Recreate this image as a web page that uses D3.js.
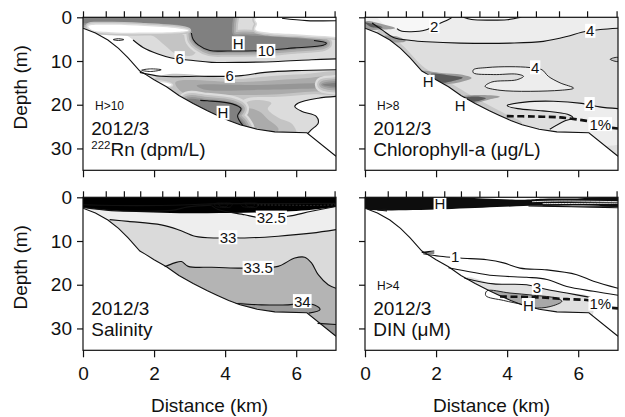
<!DOCTYPE html>
<html>
<head>
<meta charset="utf-8">
<script src="https://cdn.jsdelivr.net/npm/d3@7"></script>
<style>
  body { margin: 0; background: #fff; }
  svg text { font-family: "Liberation Sans", Arial, sans-serif; fill: #111; }
</style>
</head>
<body>
<div id="chart"></div>
<script>
// station positions along the transect (km), marked on the top axis
var stations = [0, 0.64, 1.15, 1.61, 2.23, 2.70, 3.22, 3.75, 4.28, 4.81, 5.46, 6.25, 7.08];
var distTicks = [0, 2, 4, 6];
var depthTicks = [0, 10, 20, 30];

// bottom profile [km, depth m]
var seafloor = [[0,2.5],[0.35,3.6],[0.7,5.2],[1.0,7.1],[1.27,9.3],[1.6,12.3],[1.75,13.0],[2.0,14.3],[2.35,15.9],
  [2.7,17.9],[3.1,19.7],[3.5,21.4],[3.77,22.4],[4.1,23.6],[4.42,24.6],[4.9,25.6],[5.4,26.2],[6.3,26.4],[7.12,31.8]];

// ---- 222Rn (dpm/L): filled ranges, level = lower bound of the class ----
var rnFills = [
  { level: 6, pts: [[-0.3,-1],[7.5,-1],[7.5,9.5],[7.12,9.5],[6.43,9.7],[5.49,10.1],[4.55,10.3],[3.62,10.3],[3.1,9.9],[2.49,9.3],[2.11,8.4],[1.69,6.9],[1.41,5.2],[1.25,4.3],[1.0,4.0],[0.5,3.9],[0.1,3.6],[-0.3,3.4]] },
  { level: 7, pts: [[1.9,2.2],[2.9,2.4],[3.2,3.5],[3.25,6.5],[3.1,8.6],[2.6,8.3],[2.3,6.4],[2.0,4.4],[1.8,3.6]] },
  { level: 10, pts: [[-0.3,-1],[4.23,-1],[4.22,0.5],[4.2,1.7],[4.23,4.0],[4.55,4.1],[5.49,4.5],[6.43,5.1],[6.85,5.9],[6.76,6.4],[5.96,7.0],[5.12,7.6],[4.08,7.7],[3.57,7.6],[3.24,6.3],[3.1,5.1],[3.05,3.2],[2.86,2.1],[2.2,1.5],[1.27,1.2],[0.42,1.1],[-0.3,1.2]] },
  { level: 0, pts: [[0.15,2.0],[0.8,1.7],[1.74,2.0],[2.68,2.55],[2.96,3.0],[2.68,3.3],[1.74,3.5],[0.8,3.4],[0.25,2.9]] },
  { level: 0, pts: [[4.85,0.4],[7.5,0.4],[7.5,4.2],[6.8,4.3],[6.0,3.9],[5.2,3.5],[4.85,2.8],[4.9,1.5]] },
  { level: 6, pts: [[1.3,13.5],[2.2,13.5],[3.2,13.5],[4.37,13.4],[5.12,12.6],[5.96,12.2],[7.12,12.0],[7.5,12.0],[7.5,18.0],[7.12,18.1],[6.62,18.5],[6.06,19.6],[5.96,20.4],[6.15,21.5],[6.57,22.7],[6.62,24.2],[6.43,25.7],[6.25,28],[3.0,28],[1.3,16]] },
  { level: 7, pts: [[2.0,14.2],[4.4,14.1],[5.3,13.4],[6.2,13.0],[7.5,12.9],[7.5,17.4],[6.5,17.6],[5.5,18.2],[4.6,18.6],[4.4,20],[4.6,28],[2.0,28]] },
  { level: 7, pts: [[4.6,19.5],[5.3,19.6],[5.2,21],[5.5,23],[5.9,24.5],[6.0,27],[4.6,27]] },
  { level: 8, pts: [[2.6,14.9],[4.5,14.8],[6.0,14.1],[7.5,13.9],[7.5,16.8],[6.5,17.0],[5.5,17.6],[4.5,17.8],[3.5,17.6],[2.8,17.2]] },
  { level: 8, pts: [[4.6,21],[4.95,21.5],[5.2,23.3],[5.5,25.5],[5.4,27],[4.6,27]] },
  { level: 9, pts: [[3.2,15.6],[5.0,15.5],[6.5,15.1],[7.5,15.0],[7.5,16.1],[6.5,16.3],[5.0,16.6],[3.4,16.5]] },
  { level: 10, pts: [[6.75,15.4],[7.5,15.1],[7.5,15.8],[6.9,15.7]] },
  { level: 0, pts: [[1.95,14.9],[2.35,15.0],[2.5,15.5],[2.2,15.9],[1.95,15.7]] },
  { level: 9, pts: [[2.6,18.3],[3.0,18.2],[3.2,18.6],[2.8,18.9]] },
  { level: 10, pts: [[2.9,19.0],[3.5,19.1],[4.2,19.8],[4.45,20.9],[4.35,22.6],[4.5,24.0],[4.6,26],[2.9,26]] }
];
var rnLines = [
  [[1.41,5.2],[1.69,6.9],[2.11,8.4],[2.49,9.3],[3.1,9.9],[3.62,10.3],[4.55,10.3],[5.49,10.1],[6.43,9.7],[7.12,9.5]],
  [[3.05,3.6],[3.1,5.1],[3.24,6.3],[3.57,7.6],[4.08,7.7],[5.12,7.6],[5.96,7.0],[6.76,6.4],[6.85,5.9],[6.5,5.3]],
  [[1.6,12.6],[2.2,13.5],[3.2,13.5],[4.37,13.4],[5.12,12.6],[5.96,12.2],[7.12,12.0]],
  [[7.12,18.1],[6.62,18.5],[6.06,19.6],[5.96,20.4],[6.15,21.5],[6.57,22.7],[6.62,24.2],[6.43,25.7],[6.32,26.6]],
  [[3.3,19.0],[3.5,19.1],[4.2,19.8],[4.45,20.9],[4.35,22.6],[4.5,24.8]],
  [[5.6,0.2],[6.3,0.75],[7.12,0.8]]
];
var rnLoops = [
  [[0.85,5.1],[1.0,4.9],[1.15,5.1],[1.0,5.3]],
  [[1.65,12.1],[1.9,11.8],[2.2,12.0],[1.9,12.4]]
];
var rnLabels = [
  { text: 'H', at: [4.37, 6.0] }, { text: '10', at: [5.15, 7.75] }, { text: '6', at: [2.72, 9.4] },
  { text: '6', at: [4.13, 13.45] }, { text: 'H', at: [3.94, 21.9] }
];

// ---- Chlorophyll-a (ug/L) ----
var chlMid4 = [[3.05,12.0],[3.43,11.5],[4.08,11.3],[4.65,11.5],[4.98,12.0],[5.16,13.5],[5.49,15.0],[5.87,16.2],[5.49,16.7],[3.8,16.7],[3.38,15.8],[3.57,14.8],[4.27,14.3],[4.46,13.5],[4.27,13.0],[3.62,13.1],[3.05,12.7]];
var chlLow4 = [[7.12,20.9],[6.6,20.5],[6.1,19.7],[5.3,19.2],[4.5,19.4],[4.0,20.2],[4.3,20.9],[5.0,21.4],[5.7,22.2],[5.85,23.0],[5.6,23.8],[5.2,25.6]];
var chlUp4 = [[0.2,1.3],[0.5,3.0],[0.8,4.6],[1.3,5.3],[1.74,5.6],[2.68,5.9],[4.08,5.9],[5.02,5.5],[5.68,4.4],[6.1,3.4],[6.62,2.8],[7.12,2.5]];
var chl2 = [[2.45,0],[2.35,0.5],[2.1,1.4],[1.7,2.9],[1.3,3.3],[1.0,3.1],[0.9,2.6]];
var chlFills = [
  { level: 5, pts: [[-0.5,-1],[7.5,-1],[7.5,34],[-0.5,34]] },
  { level: 3, pts: [[-0.5,-1],[7.5,-1],[7.5,2.5]].concat(chlUp4.slice().reverse(), [[-0.5,1.0]]) },
  { level: 1, pts: [[0.3,-1],[2.5,-1]].concat(chl2, [[0.7,2.2],[0.45,1.0]]) },
  { level: 1, pts: [[2.77,-1],[4.4,-1],[4.4,0],[4.0,0.55],[3.5,0.65],[3.0,0.5],[2.77,0]] },
  { level: 3, pts: chlMid4 },
  { level: 3, pts: [[7.5,21.0]].concat(chlLow4, [[5.3,28],[7.5,28]]) },
  { level: 6, pts: [[0.4,2.8],[0.7,4.3],[1.0,6.0],[1.27,8.2],[1.6,11.0],[2.0,13.2],[2.35,14.8],[3.1,18.4],[3.77,21.3],[4.1,22.7],[4.4,24.0],[4.5,27],[0.4,27]] },
  { level: 6, pts: [[7.12,9.2],[6.9,9.6],[7.12,10.1],[7.5,9.6]] },
  { level: 7, pts: [[0,1.0],[0.5,1.6],[0.85,2.5],[0.5,2.8],[0,2.6]] },
  { level: 8, pts: [[0,1.2],[0.35,1.8],[0.5,2.3],[0.2,2.3]] },
  { level: 7, pts: [[0.55,4.3],[0.95,4.5],[1.15,5.4],[0.8,5.7]] },
  { level: 7, pts: [[1.55,12.4],[2.21,12.8],[2.7,13.1],[3.0,13.9],[2.7,14.8],[2.1,15.4],[1.8,15]] },
  { level: 8, pts: [[1.85,13.0],[2.4,13.3],[2.75,13.8],[2.5,14.5],[2.1,14.9]] },
  { level: 7, pts: [[2.75,18.2],[3.3,17.8],[3.8,18.2],[3.5,18.8],[3.0,19.6]] },
  { level: 8, pts: [[2.8,18.4],[3.15,18.1],[3.4,18.5],[3.0,19.3]] }
];
var chlLines = [chl2, [[2.77,0],[3.0,0.5],[3.5,0.65],[4.0,0.55],[4.4,0]], chlUp4, chlLow4];
var chlLoops = [chlMid4, [[7.12,9.2],[6.9,9.6],[7.12,10.1]]];
var chlDashed = [[[3.99,22.6],[4.74,22.7],[5.49,22.9],[6.24,23.7],[6.45,24.0]], [[6.95,25.3],[7.12,25.45]]];
var chlLabels = [
  { text: '2', at: [1.95, 2.1] }, { text: '4', at: [6.34, 3.15] }, { text: '4', at: [4.79, 11.5] },
  { text: '4', at: [6.32, 19.9] }, { text: '1%', at: [6.62, 24.5] }, { text: 'H', at: [1.78, 14.8] }, { text: 'H', at: [2.68, 20.2] }
];

// ---- Salinity ----
var sal325 = [[3.62,1.9],[3.8,2.8],[4.55,4.0],[4.93,4.6],[5.3,4.7],[5.77,4.35],[6.43,3.2],[7.12,2.1]];
var sal33 = [[0.75,5.1],[1.27,5.5],[2.2,6.3],[2.68,7.4],[3.15,8.9],[3.71,9.3],[4.08,9.2],[4.55,9.3],[5.49,8.9],[6.43,8.2],[7.12,7.4]];
var sal335 = [[2.3,15.9],[2.58,15.0],[2.77,14.7],[2.96,15.8],[3.62,16.0],[4.36,16.2],[4.93,16.2],[5.49,15.8],[5.96,13.9],[6.24,13.7],[6.43,15.0],[6.62,17.7],[6.9,20.0],[7.12,20.8]];
var sal34 = [[4.3,24.3],[5.02,24.6],[5.77,24.6],[6.15,24.3],[6.53,24.7],[6.67,25.7],[6.35,26.5]];
var salLens = [[0,2.3],[0.8,3.05],[1.74,3.2],[2.49,3.0],[2.96,2.2],[3.62,1.8]];
var salFills = [
  { level: 32.5, pts: [[-0.5,-1],[7.5,-1],[7.5,34],[-0.5,34]] },
  { level: 32, pts: [[-0.5,-1],[7.5,-1],[7.5,2.0]].concat(sal325.slice().reverse(), salLens.slice().reverse(), [[-0.5,2.2]]) },
  { level: 33, pts: sal33.concat([[7.5,7.3],[7.5,34],[0.4,34],[0.4,5.0]]) },
  { level: 33.5, pts: [[2.2,16.6]].concat(sal335, [[7.5,21],[7.5,34],[2.2,34]]) },
  { level: 34, pts: sal34.concat([[5.0,27],[4.2,26]]) },
  { level: 34, pts: [[6.0,28.8],[7.12,29.1],[7.5,29.2],[7.5,34],[6.0,34]] },
  { level: 31, pts: [[-0.5,-1],[7.5,-1],[7.5,1.15],[-0.5,1.15]] }
];
var salLines = [
  [[0,1.7],[1.5,1.9],[3.0,1.7],[3.62,1.5],[5,1.45],[7.12,1.4]],
  salLens, sal325, sal33, sal335, sal34, [[6.6,28.85],[7.12,29.1]]
];
var salLoops = [
  [[3.7,1.5],[3.95,1.3],[4.2,1.5],[4.15,2.2],[3.9,2.3],[3.72,2.0]],
  [[3.82,1.6],[3.95,1.45],[4.08,1.6],[4.05,2.05],[3.9,2.1],[3.84,1.9]],
  [[4.45,1.5],[4.7,1.3],[4.95,1.5],[4.9,2.2],[4.65,2.3],[4.47,2.0]],
  [[4.57,1.6],[4.7,1.45],[4.83,1.6],[4.8,2.05],[4.65,2.1],[4.59,1.9]]
];
var salDotted = [[[4.9,1.75],[5.8,1.8],[6.6,1.85],[7.12,1.7]]];
var salLabels = [
  { text: '32.5', at: [5.3, 4.7] }, { text: '33', at: [4.08, 9.2] }, { text: '33.5', at: [4.93, 16.2] }, { text: '34', at: [6.17, 23.8] }
];

// ---- DIN (uM) ----
var dinH = [[3.43,21.4],[4.08,21.9],[4.74,22.4],[5.4,23.1],[5.54,23.8],[5.21,25.0],[4.74,25.3],[4.46,24.6],[3.9,23.6],[3.4,22.5]];
var din3 = [[2.8,18.5],[3.62,19.8],[4.55,20.0],[5.12,21.1],[5.68,21.9],[6.34,22.9]];
var dinFills = [
  { level: 3, pts: din3.concat([[6.34,28],[2.8,28]]) },
  { level: 4, pts: dinH },
  { level: 5, pts: [[-0.5,0.5],[4.5,0.55],[5.0,0.35],[5.8,0.3],[7.5,0.3],[7.5,1.7],[6.0,1.75],[4.8,1.95],[-0.5,2.0]] }
];
var dinLines = [
  [[1.64,12.9],[2.11,13.5],[2.68,13.9],[3.43,14.3],[3.9,15.0],[4.36,16.2],[5.12,16.6],[5.96,17.7],[6.43,19.2],[7.12,20.8]],
  [[2.35,16.1],[3.62,17.9],[4.55,18.3],[5.12,18.8],[5.68,20.4],[6.43,21.5],[7.12,22.4]],
  din3,
  [[0.62,2.7],[0.35,2.9],[0.62,3.1]],
  [[1.95,12.3],[1.6,12.6],[1.95,12.75]],
  [[4.6,2.0],[5.8,2.15],[7.12,2.4]],
  [[5.0,1.95],[6.2,2.0],[7.12,2.1]]
];
var dinLoops = [dinH];
var dinStreaks = [[[4.7,1.0],[5.5,0.85],[7.12,1.0]], [[5.0,1.45],[6.0,1.4],[7.12,1.35]]];
var dinDashed = [[[3.8,22.7],[4.93,22.9],[5.68,23.3],[6.24,23.5],[6.4,23.8]], [[6.95,25.3],[7.12,25.4]]];
var dinLabels = [
  { text: 'H', at: [2.11, 1.5] }, { text: '1', at: [2.54, 13.7] }, { text: '3', at: [4.84, 20.7] },
  { text: 'H', at: [4.6, 24.7] }, { text: '1%', at: [6.62, 24.4] }
];

var W = 253, H = 153;

function init() {
    var x = d3.scaleLinear().domain([0, 7.12]).range([0, W]);
    var y = d3.scaleLinear().domain([0, 35]).range([0, H]);

    var line = d3.line().x(function(d) { return x(d[0]); }).y(function(d) { return y(d[1]); })
        .curve(d3.curveCatmullRom.alpha(0.5));
    var loop = d3.line().x(function(d) { return x(d[0]); }).y(function(d) { return y(d[1]); })
        .curve(d3.curveCatmullRomClosed.alpha(0.5));
    var straight = d3.line().x(function(d) { return x(d[0]); }).y(function(d) { return y(d[1]); });

    var svg = d3.select('#chart').append('svg').attr('width', 625).attr('height', 417);

    var panels = [
        { id: 'rn', left: 83, top: 17.3, fills: rnFills, lines: rnLines, loops: rnLoops, dashed: [], labels: rnLabels,
          levels: [0, 6, 7, 8, 9, 10], grays: ['#ffffff', '#dcdcdc', '#c4c4c4', '#ababab', '#969696', '#808080'],
          halo: { 10: [[6, 16], [7, 11.5], [8, 7.5], [9, 3.5]], 0: [[7, 6], [6, 3]] },
          note: 'H>10', title: '2012/3', sub: 'Rn (dpm/L)', sup: '222', yLab: true, xLab: false },
        { id: 'chl', left: 365, top: 17.3, fills: chlFills, lines: chlLines, loops: chlLoops, dashed: chlDashed, labels: chlLabels,
          levels: [1, 3, 5, 6, 7, 8], grays: ['#f7f7f7', '#ededed', '#dedede', '#c8c8c8', '#9c9c9c', '#5a5a5a'],
          note: 'H>8', title: '2012/3', sub: 'Chlorophyll-a (\u03bcg/L)', yLab: false, xLab: false },
        { id: 'sal', left: 83, top: 197.3, fills: salFills, lines: salLines, loops: salLoops, dashed: [], dotted: salDotted, labels: salLabels,
          levels: [31, 32, 32.5, 33, 33.5, 34], grays: ['#000000', '#ffffff', '#eeeeee', '#dadada', '#b4b4b4', '#9a9a9a'],
          note: null, title: '2012/3', sub: 'Salinity', yLab: true, xLab: true },
        { id: 'din', left: 365, top: 197.3, fills: dinFills, lines: dinLines, loops: dinLoops, dashed: dinDashed, streaks: dinStreaks, labels: dinLabels,
          levels: [3, 4, 5], grays: ['#e0e0e0', '#a8a8a8', '#0d0d0d'],
          note: 'H>4', title: '2012/3', sub: 'DIN (\u03bcM)', yLab: false, xLab: true }
    ];

    panels.forEach(function(p) {
        var shade = d3.scaleOrdinal().domain(p.levels).range(p.grays);
        var g = svg.append('g').attr('transform', 'translate(' + p.left + ',' + p.top + ')');
        g.append('clipPath').attr('id', 'clip-' + p.id).append('rect').attr('width', W).attr('height', H);
        var plot = g.append('g').attr('clip-path', 'url(#clip-' + p.id + ')');

        p.fills.forEach(function(f) {
            // graded rims imitate the smooth colour steps of the original
            var rims = p.halo && p.halo[f.level];
            (rims || []).forEach(function(b) {
                plot.append('path').attr('d', loop(f.pts)).attr('fill', 'none')
                    .attr('stroke', shade(b[0])).attr('stroke-width', b[1]).attr('stroke-linejoin', 'round');
            });
            plot.append('path').attr('d', loop(f.pts)).attr('fill', shade(f.level));
        });

        (p.streaks || []).forEach(function(s) {
            plot.append('path').attr('d', line(s)).attr('fill', 'none').attr('stroke', '#fff').attr('stroke-width', 0.9);
        });

        // blank out everything below the bottom
        plot.append('path').attr('d', straight(seafloor.concat([[7.6, 40], [-0.5, 40]])) + 'Z').attr('fill', '#fff');

        p.lines.forEach(function(l) {
            plot.append('path').attr('d', line(l)).attr('fill', 'none').attr('stroke', '#111').attr('stroke-width', 1.1);
        });
        p.loops.forEach(function(l) {
            plot.append('path').attr('d', loop(l)).attr('fill', 'none').attr('stroke', '#111').attr('stroke-width', 0.9);
        });
        (p.dotted || []).forEach(function(l) {
            plot.append('path').attr('d', line(l)).attr('fill', 'none').attr('stroke', '#333')
                .attr('stroke-width', 0.9).attr('stroke-dasharray', '2,1.5');
        });
        p.dashed.forEach(function(l) {
            plot.append('path').attr('d', line(l)).attr('fill', 'none').attr('stroke', '#111')
                .attr('stroke-width', 2.6).attr('stroke-dasharray', '7,3.5');
        });
        plot.append('path').attr('d', straight(seafloor)).attr('fill', 'none').attr('stroke', '#111').attr('stroke-width', 1.1);

        p.labels.forEach(function(l) {
            var t = g.append('text').attr('x', x(l.at[0])).attr('y', y(l.at[1])).attr('dy', '0.35em')
                .attr('text-anchor', 'middle').style('font-size', '15px').text(l.text);
            var b = t.node().getBBox();
            g.insert('rect', function() { return t.node(); })
                .attr('x', b.x - 1).attr('y', b.y + 1.5).attr('width', b.width + 2).attr('height', b.height - 3)
                .attr('fill', '#fff');
        });

        // frame and axes
        g.append('rect').attr('width', W).attr('height', H).attr('fill', 'none').attr('stroke', '#111').attr('stroke-width', 1.2);

        var ax = [
            d3.axisLeft(y).tickValues(depthTicks).tickSize(6).tickPadding(5).tickFormat(p.yLab ? d3.format('d') : ''),
            d3.axisBottom(x).tickValues(distTicks).tickSize(7).tickPadding(9).tickFormat(p.xLab ? d3.format('d') : ''),
            d3.axisTop(x).tickValues(stations).tickSize(6).tickFormat('')
        ];
        ax.forEach(function(a, i) {
            var ag = g.append('g').call(a);
            if (i === 1) ag.attr('transform', 'translate(0,' + H + ')');
            ag.select('.domain').remove();
            ag.selectAll('line').attr('stroke', '#111').attr('stroke-width', 1.2);
            ag.selectAll('text').style('font-size', '19px').style('font-family', '"Liberation Sans", Arial, sans-serif').attr('fill', '#111');
        });

        if (p.yLab) {
            g.append('text').attr('transform', 'translate(' + (26.5 - p.left) + ',' + 70 + ') rotate(-90)')
                .attr('text-anchor', 'middle').style('font-size', '19px').text('Depth (m)');
        }
        if (p.xLab) {
            g.append('text').attr('x', W / 2).attr('y', 412 - p.top).attr('text-anchor', 'middle')
                .style('font-size', '19px').text('Distance (km)');
        }

        if (p.note) {
            g.append('text').attr('x', 12).attr('y', 93).style('font-size', '12px').text(p.note);
        }
        g.append('text').attr('x', 8.3).attr('y', 117.4).style('font-size', '19px').text(p.title);
        var st = g.append('text').attr('x', 8.3).attr('y', 138.8).style('font-size', '19px');
        if (p.sup) {
            st.append('tspan').style('font-size', '11.5px').attr('dy', -7).text(p.sup);
            st.append('tspan').attr('dy', 7).text(p.sub);
        } else {
            st.text(p.sub);
        }
    });
}

window.onload = init;
</script>
</body>
</html>
